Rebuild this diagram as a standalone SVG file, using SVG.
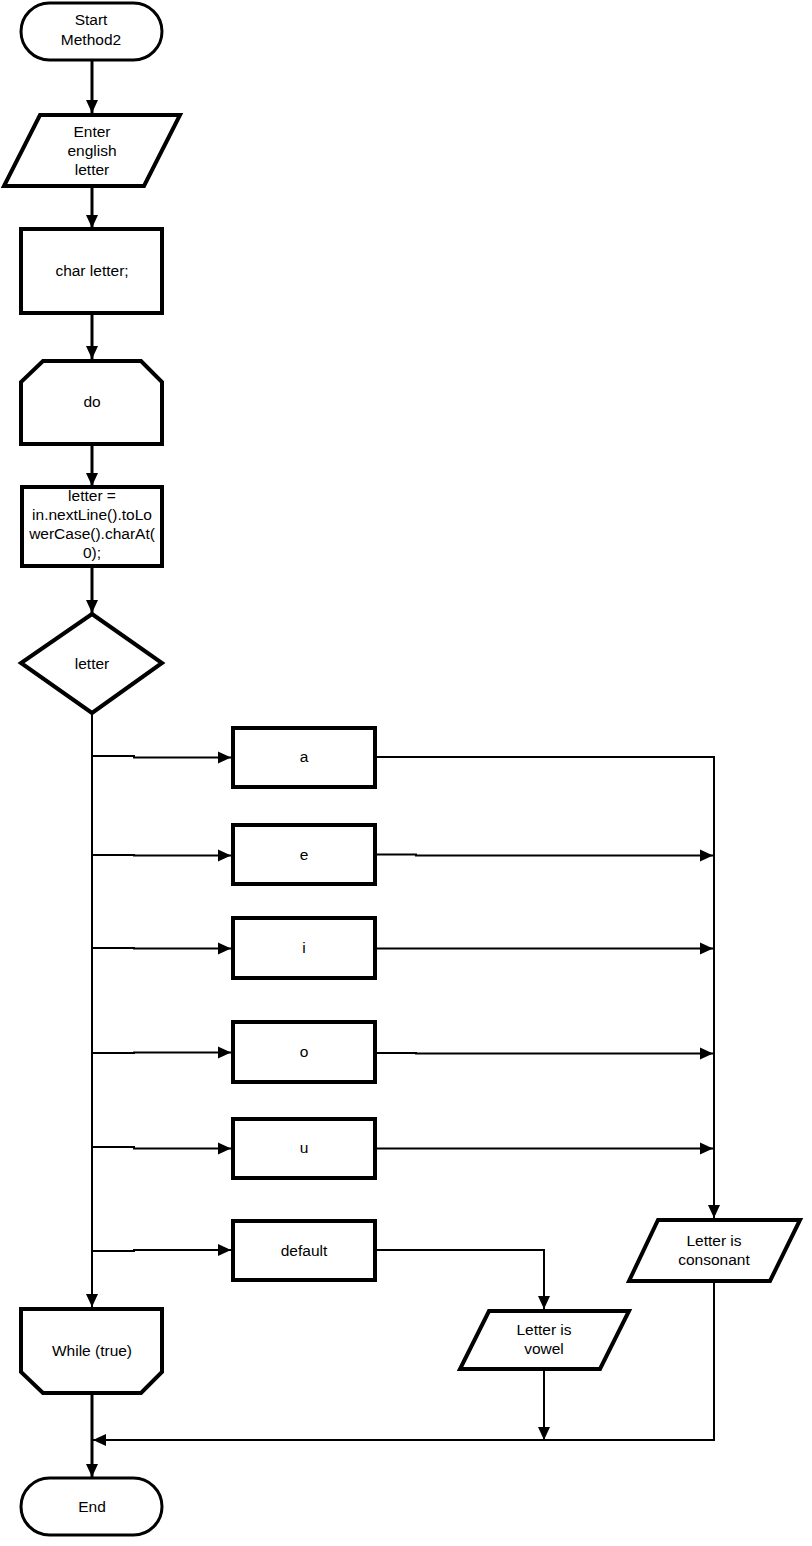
<svg xmlns="http://www.w3.org/2000/svg" width="812" height="1546" viewBox="0 0 812 1546">
<defs>
<style>
.s{fill:#fff;stroke:#000;stroke-width:4;stroke-linejoin:miter}
.t{fill:#fff;stroke:#000;stroke-width:3}
.c{fill:none;stroke:#000;stroke-width:2}
.m{fill:none;stroke:#000;stroke-width:3}
text{font-family:"Liberation Sans",Arial,sans-serif;font-size:15.5px;fill:#000;text-anchor:middle}
</style>
<marker id="ah" markerUnits="userSpaceOnUse" markerWidth="14" markerHeight="14" viewBox="0 0 14 14" refX="13" refY="7" orient="auto">
<path d="M0,1 L13,7 L0,13 z" fill="#000"/>
</marker>
</defs>
<rect width="812" height="1546" fill="#fff"/>
<g id="connectors">
<line class="m" x1="92" y1="60" x2="92" y2="113" marker-end="url(#ah)"/>
<line class="m" x1="92" y1="187" x2="92" y2="228" marker-end="url(#ah)"/>
<line class="m" x1="92" y1="314" x2="92" y2="359" marker-end="url(#ah)"/>
<line class="m" x1="92" y1="446" x2="92" y2="486" marker-end="url(#ah)"/>
<line class="m" x1="92" y1="567" x2="92" y2="613" marker-end="url(#ah)"/>
<line class="c" x1="92" y1="714" x2="92" y2="1307" marker-end="url(#ah)"/>
<polyline class="c" points="92,756 134,756 134,757.5 231,757.5" marker-end="url(#ah)"/>
<polyline class="c" points="92,855 134,855 134,855.5 231,855.5" marker-end="url(#ah)"/>
<polyline class="c" points="92,948 134,948 134,948.5 231,948.5" marker-end="url(#ah)"/>
<polyline class="c" points="92,1053 134,1053 134,1052.5 231,1052.5" marker-end="url(#ah)"/>
<polyline class="c" points="92,1147 134,1147 134,1148.5 231,1148.5" marker-end="url(#ah)"/>
<polyline class="c" points="92,1251 134,1251 134,1250 231,1250" marker-end="url(#ah)"/>
<polyline class="c" points="376,757 714,757 714,1218" marker-end="url(#ah)"/>
<polyline class="c" points="376,854.5 416,854.5 416,855.5 713,855.5" marker-end="url(#ah)"/>
<line class="c" x1="376" y1="948.5" x2="713" y2="948.5" marker-end="url(#ah)"/>
<polyline class="c" points="376,1053 416,1053 416,1053.5 713,1053.5" marker-end="url(#ah)"/>
<line class="c" x1="376" y1="1148.5" x2="713" y2="1148.5" marker-end="url(#ah)"/>
<polyline class="c" points="376,1250 544,1250 544,1309" marker-end="url(#ah)"/>
<line class="c" x1="544" y1="1370" x2="544" y2="1440" marker-end="url(#ah)"/>
<polyline class="c" points="714,1282 714,1440 93,1440" marker-end="url(#ah)"/>
<line class="m" x1="92" y1="1394" x2="92" y2="1477" marker-end="url(#ah)"/>
</g>
<g id="start">
<rect class="t" x="21" y="3" width="141" height="57" rx="28.5"/>
<text x="91" y="25">Start</text>
<text x="91" y="45">Method2</text>
</g>
<g id="input">
<polygon class="s" points="40,115 180,115 144,186 4,186"/>
<text x="92" y="137">Enter</text>
<text x="92" y="156">english</text>
<text x="92" y="175">letter</text>
</g>
<g id="decl">
<rect class="s" x="21" y="229" width="141" height="84"/>
<text x="92" y="276">char letter;</text>
</g>
<g id="do">
<polygon class="s" points="43,361 141,361 162,382 162,444 21,444 21,382"/>
<text x="92" y="407">do</text>
</g>
<g id="assign">
<rect class="s" x="22" y="487" width="140" height="79"/>
<text x="92" y="501">letter =</text>
<text x="92" y="520">in.nextLine().toLo</text>
<text x="92" y="539">werCase().charAt(</text>
<text x="92" y="558">0);</text>
</g>
<g id="switch">
<polygon class="s" points="92,614 162,663 92,713 21,663"/>
<text x="92" y="669">letter</text>
</g>
<g id="case-a">
<rect class="s" x="233" y="728" width="142" height="59"/>
<text x="304" y="762">a</text>
</g>
<g id="case-e">
<rect class="s" x="233" y="825" width="142" height="59"/>
<text x="304" y="860">e</text>
</g>
<g id="case-i">
<rect class="s" x="233" y="918" width="142" height="60"/>
<text x="304" y="953">i</text>
</g>
<g id="case-o">
<rect class="s" x="233" y="1022" width="142" height="60"/>
<text x="304" y="1057">o</text>
</g>
<g id="case-u">
<rect class="s" x="233" y="1119" width="142" height="59"/>
<text x="304" y="1153">u</text>
</g>
<g id="case-default">
<rect class="s" x="233" y="1221" width="142" height="59"/>
<text x="304" y="1256">default</text>
</g>
<g id="consonant">
<polygon class="s" points="658,1220 800,1220 770,1281 629,1281"/>
<text x="714" y="1246">Letter is</text>
<text x="714" y="1265">consonant</text>
</g>
<g id="vowel">
<polygon class="s" points="489,1311 629,1311 600,1369 460,1369"/>
<text x="544" y="1335">Letter is</text>
<text x="544" y="1354">vowel</text>
</g>
<g id="while">
<polygon class="s" points="21,1309 162,1309 162,1372 141,1393 43,1393 21,1372"/>
<text x="92" y="1356">While (true)</text>
</g>
<g id="end">
<rect class="t" x="21" y="1478" width="141" height="57" rx="28.5"/>
<text x="92" y="1512">End</text>
</g>
</svg>
